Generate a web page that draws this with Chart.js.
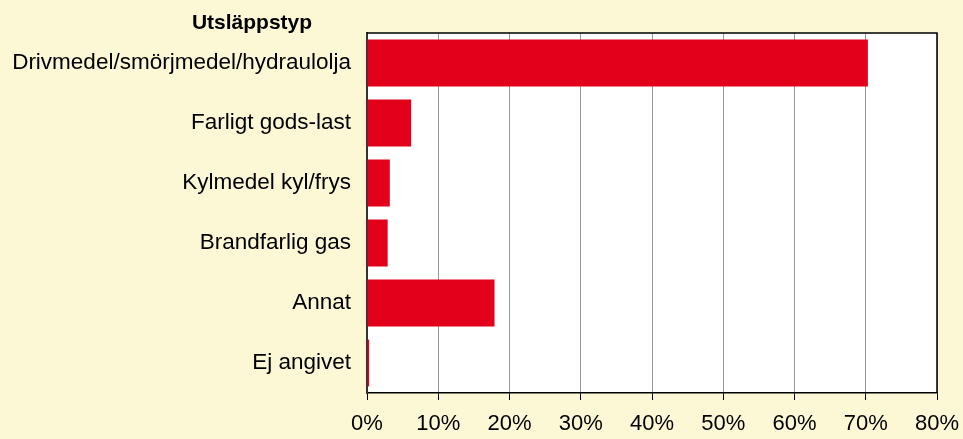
<!DOCTYPE html>
<html>
<head>
<meta charset="utf-8">
<script src="https://cdn.jsdelivr.net/npm/chart.js@4"></script>
<style>
  html, body { margin: 0; padding: 0; background: #FCF7D4; }
  #wrap { width: 963px; height: 439px; }
</style>
</head>
<body>
<div id="wrap"><canvas id="chart" width="963" height="439"></canvas></div>
<script>
// Andel utsläpp per utsläppstyp (%)
const kategorier = [
  'Drivmedel/smörjmedel/hydraulolja',
  'Farligt gods-last',
  'Kylmedel kyl/frys',
  'Brandfarlig gas',
  'Annat',
  'Ej angivet',
];
const andelar = [70.3, 6.2, 3.2, 2.9, 17.9, 0.3];
const rubrik = 'Utsläppstyp';

const FONT = '"Liberation Sans", Arial, sans-serif';

// Vit plotyta, ram upptill/till höger och rubriken ovanför kategorierna
const ramPlugin = {
  id: 'ram',
  beforeDraw(chart) {
    const { ctx, chartArea: a } = chart;
    ctx.save();
    ctx.fillStyle = '#fff';
    ctx.fillRect(a.left, a.top, a.right - a.left, a.bottom - a.top);
    ctx.restore();
  },
  afterDraw(chart) {
    const { ctx, chartArea: a } = chart;
    ctx.save();
    ctx.strokeStyle = '#000';
    ctx.lineWidth = 1.5;
    ctx.beginPath();
    ctx.moveTo(a.left, a.top);
    ctx.lineTo(a.right, a.top);
    ctx.lineTo(a.right, a.bottom);
    ctx.stroke();
    ctx.fillStyle = '#000';
    ctx.font = 'bold 21px ' + FONT;
    ctx.textAlign = 'center';
    ctx.textBaseline = 'alphabetic';
    ctx.fillText(rubrik, 252, 29);
    ctx.restore();
  },
};

new Chart(document.getElementById('chart'), {
  type: 'bar',
  data: {
    labels: kategorier,
    datasets: [{
      data: andelar,
      backgroundColor: '#E2001A',
      borderWidth: 0,
      categoryPercentage: 1,
      barPercentage: 0.78,
    }],
  },
  options: {
    indexAxis: 'y',
    responsive: false,
    animation: false,
    layout: { padding: { top: 33, right: 26, left: 0, bottom: 0 } },
    plugins: { legend: { display: false }, tooltip: { enabled: false } },
    scales: {
      x: {
        min: 0, max: 80,
        ticks: {
          stepSize: 10,
          color: '#000',
          font: { family: FONT, size: 22 },
          padding: 11,
          maxRotation: 0,
          callback: (v) => v + '%',
        },
        grid: { color: '#999', lineWidth: 1, drawTicks: true, tickLength: 7, tickColor: '#000' },
        border: { display: true, color: '#000', width: 1.5 },
        // fast höjd, och sista etiketten får gå ut i marginalen
        afterFit(s) { s.height = 46; s.paddingLeft = 0; s.paddingRight = 0; },
      },
      y: {
        ticks: {
          color: '#000',
          font: { family: FONT, size: 22.5 },
          padding: 16,
        },
        grid: { color: 'rgba(0,0,0,0)', drawTicks: false },
        border: { display: true, color: '#333', width: 2 },
        afterFit(s) { s.width = 367; },
      },
    },
  },
  plugins: [ramPlugin],
});
</script>
</body>
</html>
